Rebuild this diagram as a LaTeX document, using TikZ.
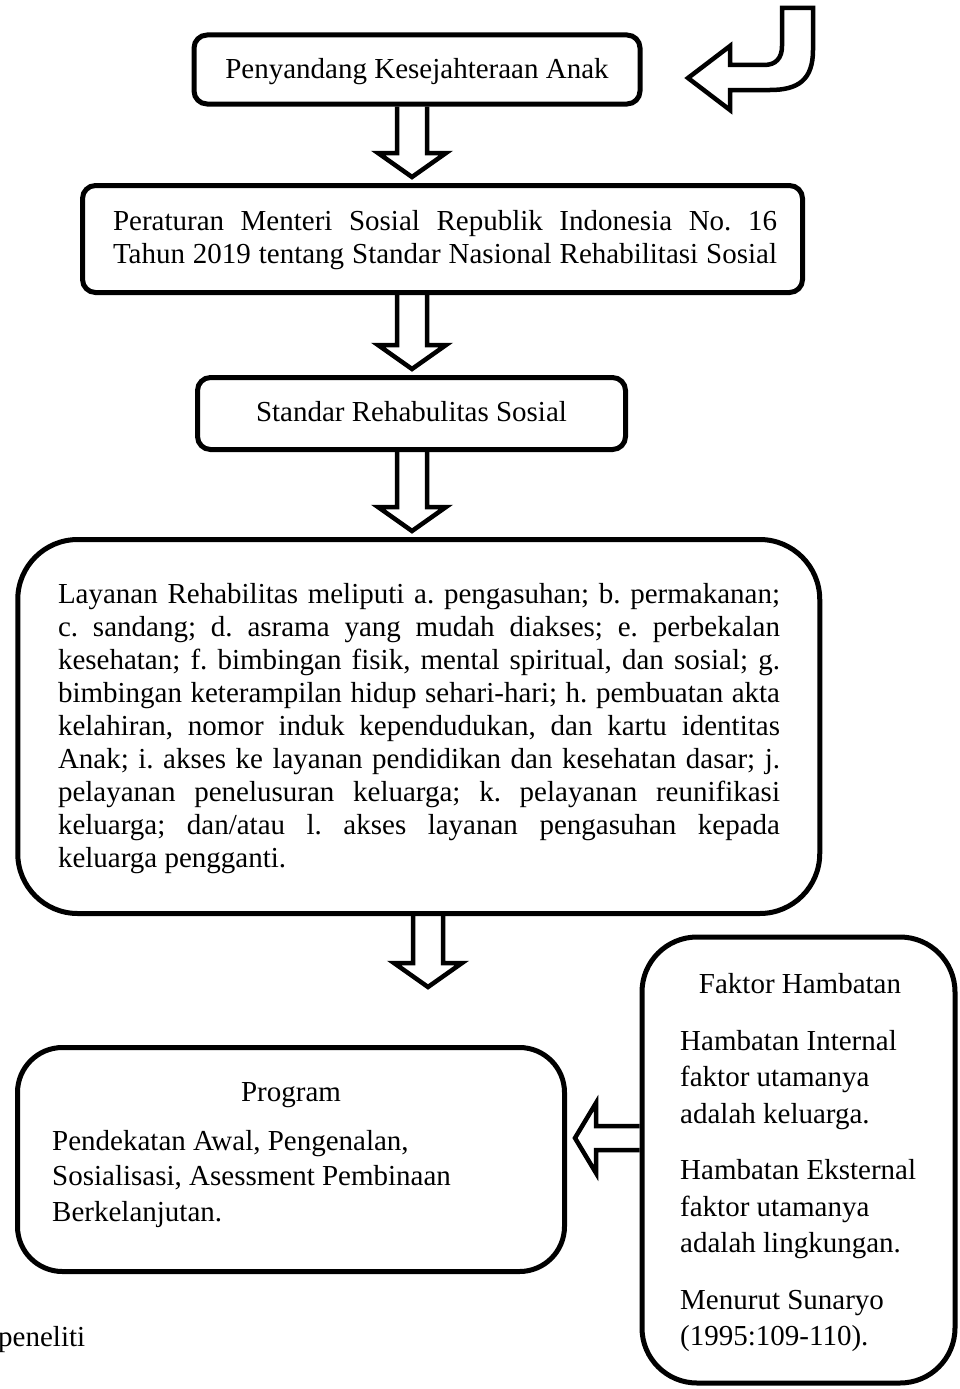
\documentclass[tikz,border=0pt]{standalone}
\usepackage{fontspec}
\setmainfont{Liberation Serif}
\usepackage{tikz}
\usetikzlibrary{calc}
\frenchspacing

\newcommand{\blockdown}[2]{%
	\draw[block arrow] let \p1=(#1), \p2=(#2) in
	(\x1-15pt,\y1) -- (\x1-15pt,\y2+30pt) -- (\x1-34pt,\y2+30pt) -- (\x1,\y2+6pt)
	-- (\x1+34pt,\y2+30pt) -- (\x1+15pt,\y2+30pt) -- (\x1+15pt,\y1);}
\newcommand{\blockleft}[2]{%
	\draw[block arrow] let \p1=(#1), \p2=(#2) in
	(\x1,\y1+12pt) -- (\x2+29pt,\y1+12pt) -- (\x2+29pt,\y1+35pt) -- (\x2+8pt,\y1)
	-- (\x2+29pt,\y1-35pt) -- (\x2+29pt,\y1-12pt) -- (\x1,\y1-12pt);}

\begin{document}
\begin{tikzpicture}[x=1pt,y=-1pt,
	main box/.style={draw,line width=5pt,rounded corners=13pt,inner sep=0pt},
	big box/.style={main box,rounded corners=55pt},
	box text/.style={inner sep=0pt,font=\fontsize{29}{36.5}\selectfont},
	wide text/.style={inner sep=0pt,font=\fontsize{29}{33}\selectfont,align=center},
	block arrow/.style={line width=4.5pt,line join=miter}]
	
	\useasboundingbox (0,0) rectangle (959,1389);
	
	\node[main box,minimum width=446pt,minimum height=69pt] (pka) at (417,69.5) {};
	\node[main box,minimum width=720pt,minimum height=107pt] (perat) at (442.5,239) {};
	\node[main box,minimum width=428pt,minimum height=72pt] (std) at (411.5,413.5) {};
	\node[big box,rounded corners=60pt,minimum width=802pt,minimum height=374pt] (lay) at (418.75,726.5) {};
	\node[big box,rounded corners=45pt,minimum width=547pt,minimum height=224pt] (prog) at (291,1159.5) {};
	\node[big box,minimum width=313pt,minimum height=446pt] (fak) at (798.5,1160) {};
	
	\node[box text] (pkaT) at (417,72) {Penyandang Kesejahteraan Anak};
	\node[wide text] (peratT) at (445,240)
		{\makebox[664pt][s]{Peraturan Menteri Sosial Republik Indonesia No. 16}\\
		\makebox[664pt][s]{Tahun 2019 tentang Standar Nasional Rehabilitasi Sosial}};
	\node[box text] (stdT) at (411.5,412) {Standar Rehabulitas Sosial};
	\node[wide text] (layT) at (419,728.5)
		{\makebox[722pt][s]{Layanan Rehabilitas meliputi a. pengasuhan; b. permakanan;}\\
		\makebox[722pt][s]{c. sandang; d. asrama yang mudah diakses; e. perbekalan}\\
		\makebox[722pt][s]{kesehatan; f. bimbingan fisik, mental spiritual, dan sosial; g.}\\
		\makebox[722pt][s]{bimbingan keterampilan hidup sehari-hari; h. pembuatan akta}\\
		\makebox[722pt][s]{kelahiran, nomor induk kependudukan, dan kartu identitas}\\
		\makebox[722pt][s]{Anak; i. akses ke layanan pendidikan dan kesehatan dasar; j.}\\
		\makebox[722pt][s]{pelayanan penelusuran keluarga; k. pelayanan reunifikasi}\\
		\makebox[722pt][s]{keluarga; dan/atau l. akses layanan pengasuhan kepada}\\
		\makebox[722pt][l]{keluarga pengganti.}};
	\node[box text] (progT) at (291,1095) {Program};
	\node[box text,anchor=west,align=left,font=\fontsize{29}{35.5}\selectfont] (progB) at (52,1179)
		{Pendekatan Awal, Pengenalan,\\
		Sosialisasi, Asessment Pembinaan\\
		Berkelanjutan.};
	\node[box text] (fakT) at (800,984) {Faktor Hambatan};
	\node[box text,anchor=west,align=left] (fakB) at (680,1191)
		{Hambatan Internal\\ faktor utamanya\\ adalah keluarga.\\[20pt]
		Hambatan Eksternal\\ faktor utamanya\\ adalah lingkungan.\\[20pt]
		Menurut Sunaryo\\ (1995:109-110).};
	\node[box text,anchor=west] (src) at (-2,1340) {peneliti};
	
	\coordinate (spine) at (412,0);
	\coordinate (lastend) at (428,993);
	\coordinate (lefty) at (0,1138);
	
	\blockdown{pka.south -| spine}{perat.north -| spine}
	\blockdown{perat.south -| spine}{std.north -| spine}
	\blockdown{std.south -| spine}{lay.north -| spine}
	\blockdown{lay.south -| lastend}{lastend}
	\blockleft{fak.west |- lefty}{prog.east |- lefty}
	
	\draw[block arrow] (782,8) -- (813,8) -- (813,50)
		.. controls (813,80) and (798,90) .. (770,90) -- (730,90) -- (730,110)
		-- (688,78) -- (730,46) -- (730,65) -- (764,65)
		.. controls (776,65) and (782,58) .. (782,46) -- cycle;
\end{tikzpicture}
\end{document}
